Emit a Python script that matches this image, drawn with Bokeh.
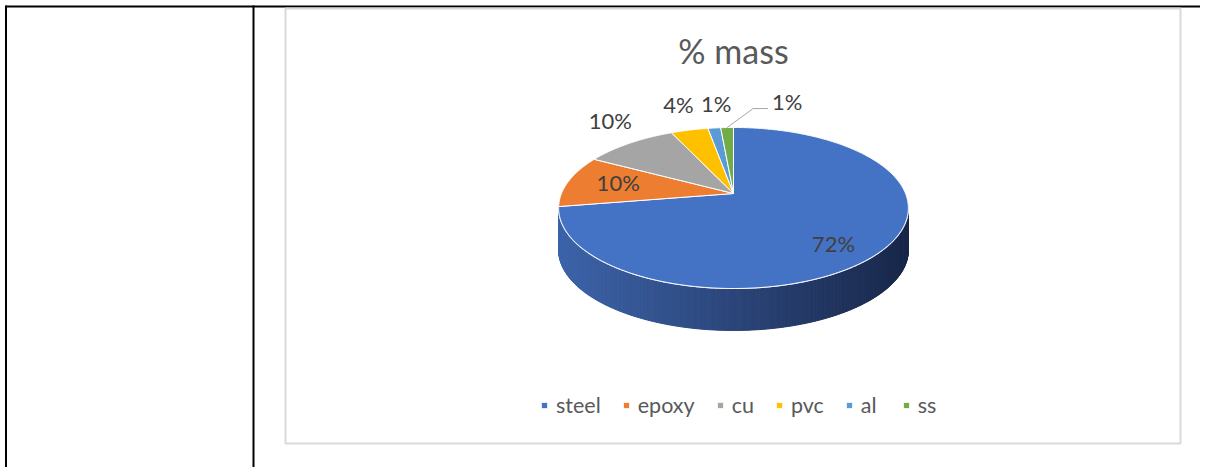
import numpy as np
from bokeh.plotting import figure
from bokeh.models import Range1d, Legend, LegendItem, ColumnDataSource
from bokeh.core.properties import value
from bokeh.embed import file_html
from bokeh.resources import INLINE

# ---- data ----
categories = ["steel", "epoxy", "cu", "pvc", "al", "ss"]
shares = [72.4, 10.5, 10.2, 4.1, 1.4, 1.4]
labels = ["72%", "10%", "10%", "4%", "1%", "1%"]
colors = ["#4472C4", "#ED7D31", "#A5A5A5", "#FFC000", "#5B9BD5", "#70AD47"]
chart_title = "% mass"

# ---- style / layout ----
FONT = "Lato"
label_r = [0.7, 0.7, 1.0, 1.0, 1.0, 1.0]
label_dx = [0, 1, -19, -11, 2, 60]
label_dy = [12, -2, -23, -26, -24, -26]

W, H = 1200, 467
p = figure(width=W, height=H, x_range=Range1d(0, 1200), y_range=Range1d(467, 0),
           output_backend="svg", toolbar_location=None, min_border=0,
           x_axis_location=None, y_axis_location=None)
p.grid.visible = False
p.outline_line_color = None
p.background_fill_color = "white"
p.border_fill_color = "white"

# table borders
p.line([5, 1200], [6, 6], line_color="black", line_width=2)
p.line([5.5, 5.5], [5, 467], line_color="black", line_width=2)
p.line([253, 253], [5, 467], line_color="black", line_width=2)
# chart frame
p.quad(left=285, right=1180, top=8, bottom=443, fill_color=None,
       line_color="#d9d9d9", line_width=2)

# ---- projected 3D pie geometry ----
cx, cy = 733.0, 193.0
A, B, k = 172.0, 77.9, 0.18
depth = 42.0


def proj(phi_deg, r=1.0, drop=0.0):
    ph = np.radians(phi_deg)
    X = r * np.sin(ph)
    Z = r * np.cos(ph)
    den = 1 + k * Z
    return cx + A * X / den, cy - B * Z / den + drop


tot = float(sum(shares))
ends = np.cumsum(shares) / tot * 360.0
starts = np.concatenate([[0.0], ends[:-1]])

# side wall (front part of rim) with a horizontal shading gradient
phi_r = np.degrees(np.arccos(-k))
phis = np.linspace(phi_r, 360 - phi_r, 320)
tx, ty = proj(phis)
bx, by = proj(phis, drop=depth)
xmin, xmax = tx.min(), tx.max()
c_left = np.array([62, 100, 170])
c_right = np.array([25, 40, 74])
sx, sy, sc = [], [], []
for i in range(len(phis) - 1):
    sx.append([tx[i], tx[i + 1], bx[i + 1], bx[i]])
    sy.append([ty[i], ty[i + 1], by[i + 1], by[i]])
    t = ((tx[i] + tx[i + 1]) / 2 - xmin) / (xmax - xmin)
    c = (c_right * t + c_left * (1 - t)).astype(int)
    sc.append("#%02x%02x%02x" % tuple(c))
p.patches(sx, sy, fill_color=sc, line_color=sc, line_width=1)
p.line(tx, ty, line_color="#e8edf6", line_width=1.2)

# top face slices
xs, ys = [], []
for s, e in zip(starts, ends):
    n = max(3, int((e - s) * 2))
    ph = np.linspace(s, e, n)
    px, py = proj(ph)
    xs.append([cx] + list(px))
    ys.append([cy] + list(py))
src = ColumnDataSource(dict(xs=xs, ys=ys, color=colors, cat=categories))
pie = p.patches("xs", "ys", source=src, fill_color="color", line_color="white",
                line_width=1)

# data labels
mids = (starts + ends) / 2
lx, ly = [], []
for m, r, dx, dy in zip(mids, label_r, label_dx, label_dy):
    x0, y0 = proj(m, r=r)
    lx.append(x0 + dx)
    ly.append(y0 + dy)
p.text(lx, ly, text=labels, text_font=value(FONT), text_font_size="22px",
       text_color="#404040", text_align="center", text_baseline="middle")

# leader line for last slice
x0, y0 = proj(mids[-1])
p.line([x0, x0 + 26, x0 + 41], [y0, y0 - 19, y0 - 19], line_color="#a6a6a6", line_width=1)

# title
p.text([733], [50], text=[chart_title], text_font=value(FONT), text_font_size="34px",
       text_color="#595959", text_align="center", text_baseline="middle")

# legend
items = [LegendItem(label=c, renderers=[pie], index=i) for i, c in enumerate(categories)]
legend = Legend(items=items, orientation="horizontal", location=(540, 49),
                glyph_width=8, glyph_height=8, label_standoff=8, spacing=21,
                padding=0, margin=0, border_line_color=None, background_fill_alpha=0,
                label_text_font=FONT, label_text_font_size="21.5px",
                label_text_color="#595959", label_height=20)
p.add_layout(legend)

open("out.html", "w").write(file_html(p, INLINE))
